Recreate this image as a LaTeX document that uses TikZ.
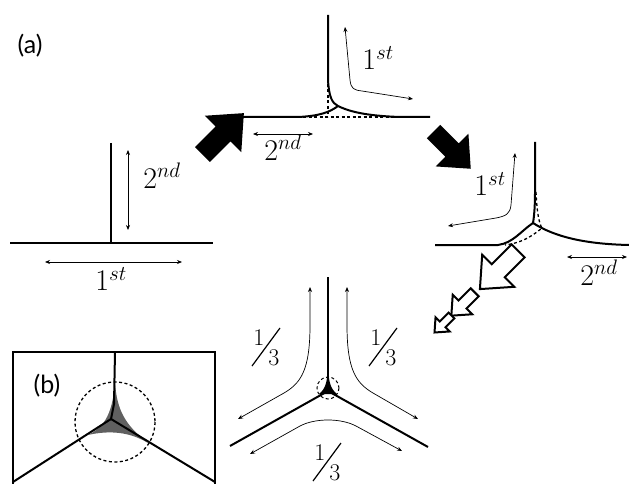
\RequirePackage{fix-cm}
\documentclass[tikz,border=0pt]{standalone}
\usepackage{amsmath}
\usepackage{fontspec}
\newfontfamily\panelfont{Lato}
\usepackage{tikz}
\usetikzlibrary{arrows.meta, positioning, calc}

\tikzset{
  grain/.style={line width=2pt},
  oldgrain/.style={line width=1.3pt, dash pattern=on 3pt off 2.5pt},
  flux/.style={{Stealth[length=5pt,width=4pt]}-{Stealth[length=5pt,width=4pt]}, line width=0.7pt},
  order/.style={font=\fontsize{30}{32}\selectfont},
  share/.style={font=\fontsize{24}{26}\selectfont, inner sep=0pt},
  panel/.style={font=\panelfont\fontsize{25}{28}\selectfont},
  pics/blockarrow/.style={code={
    \filldraw[line width=2pt, line join=miter, #1] (-0.5,-0.17) -- (0.02,-0.17) -- (0.02,-0.42) -- (0.5,0)
      -- (0.02,0.42) -- (0.02,0.17) -- (-0.5,0.17) -- cycle;}},
  pics/onethird/.style={code={
    \node (-num) [share] at (-7,-9) {1};
    \node (-den) [share] at (8,11) {3};
    \draw [line width=1.2pt] (-14,19) -- (14,-19);}}
}

\begin{document}
\begin{tikzpicture}[x=1pt, y=-1pt]
  \useasboundingbox (0,0) rectangle (629,484);

  \node (labA) [panel] at (30,46) {(a)};

  % initial T junction
  \draw [grain] (10,243) -- (213,243);
  \draw [grain] (111,143) -- (111,243);
  \draw [flux] (128,150) -- (128,230);
  \node (ndA) [order] at (162,176) {$2^{nd}$};
  \draw [flux] (45,262) -- (182,262);
  \node (stA) [order] at (111,279) {$1^{st}$};

  \pic at (223,134) [scale=56, rotate=45] {blockarrow={fill=black}};

  % first relaxation
  \draw [oldgrain] (328,62) -- (328,117);
  \draw [oldgrain] (292,117) -- (424,117);
  \draw [grain] (328,15) -- (328,80) .. controls (329,97) and (332,103) .. (338,106);
  \draw [grain] (338,106) .. controls (330,112) and (320,116) .. (298,117) -- (228,117);
  \draw [grain] (338,106) .. controls (352,113) and (372,116) .. (400,117) -- (430,117);
  \draw [flux] (345,27) -- (350,80) .. controls (351,89) and (354,90) .. (362,91) -- (413,99);
  \node (stB) [order] at (378,58) {$1^{st}$};
  \draw [flux] (253,134) -- (313,134);
  \node (ndB) [order] at (283,148) {$2^{nd}$};

  \pic at (452,150) [scale=50, rotate=-45] {blockarrow={fill=black}};

  % second relaxation
  \draw [oldgrain] (536,192) .. controls (537,213) and (539,223) .. (542,228)
    .. controls (530,238) and (520,243) .. (505,245);
  \draw [grain] (535,142) -- (535,192) .. controls (535,208) and (534,217) .. (533,223);
  \draw [grain] (533,223) .. controls (521,231) and (513,243) .. (498,245) -- (435,245);
  \draw [grain] (533,223) .. controls (555,237) and (585,244) .. (629,245);
  \draw [flux] (515,153) -- (511,205) .. controls (510,214) and (506,216) .. (496,218) -- (448,226);
  \node (stC) [order] at (490,184) {$1^{st}$};
  \draw [flux] (567,257) -- (627,257);
  \node (ndC) [order] at (599,273) {$2^{nd}$};

  \pic at (499,270) [scale=54, rotate=-135] {blockarrow={fill=white}};
  \pic at (463,304) [scale=33, rotate=-135] {blockarrow={fill=white}};
  \pic at (443,324) [scale=24, rotate=-135] {blockarrow={fill=white}};

  % symmetric triple junction
  \draw [grain] (328,277) -- (328,391);
  \draw [grain] (328,391) -- (230,446);
  \draw [grain] (328,391) -- (428,447);
  \fill (328,368) .. controls (329,384) and (331,389) .. (337,394) -- (319,394)
    .. controls (325,389) and (327,384) .. (328,368);
  \draw [oldgrain, line width=1pt] (328,388) circle [radius=11];
  \draw [flux] (310,287) -- (310,325) .. controls (310,370) and (301,383) .. (284,393) -- (238,419);
  \draw [flux] (347,287) -- (347,325) .. controls (347,370) and (356,383) .. (373,393) -- (418,419);
  \draw [flux] (250,454) -- (300,426) .. controls (315,418) and (341,418) .. (356,426) -- (402,451);
  \pic (thL) at (266,347) {onethird};
  \pic (thR) at (383,347) {onethird};
  \pic (thB) at (327,462) {onethird};

  % inset (b)
  \draw [line width=1.3pt] (13,486) -- (13,352) -- (215,352) -- (215,486);
  \fill [gray!75!black] (115,383) .. controls (117,410) and (125,425) .. (148,443)
    .. controls (130,432) and (110,430) .. (88,435)
    .. controls (102,428) and (112,418) .. (115,383) -- cycle;
  \draw [grain] (115,352) -- (114,404) -- (111,419);
  \draw [grain] (111,419) -- (13,482);
  \draw [grain] (111,419) -- (215,482);
  \draw [oldgrain] (115,422) circle [radius=40];
  \node (labB) [panel] at (47,386) {(b)};
\end{tikzpicture}
\end{document}
